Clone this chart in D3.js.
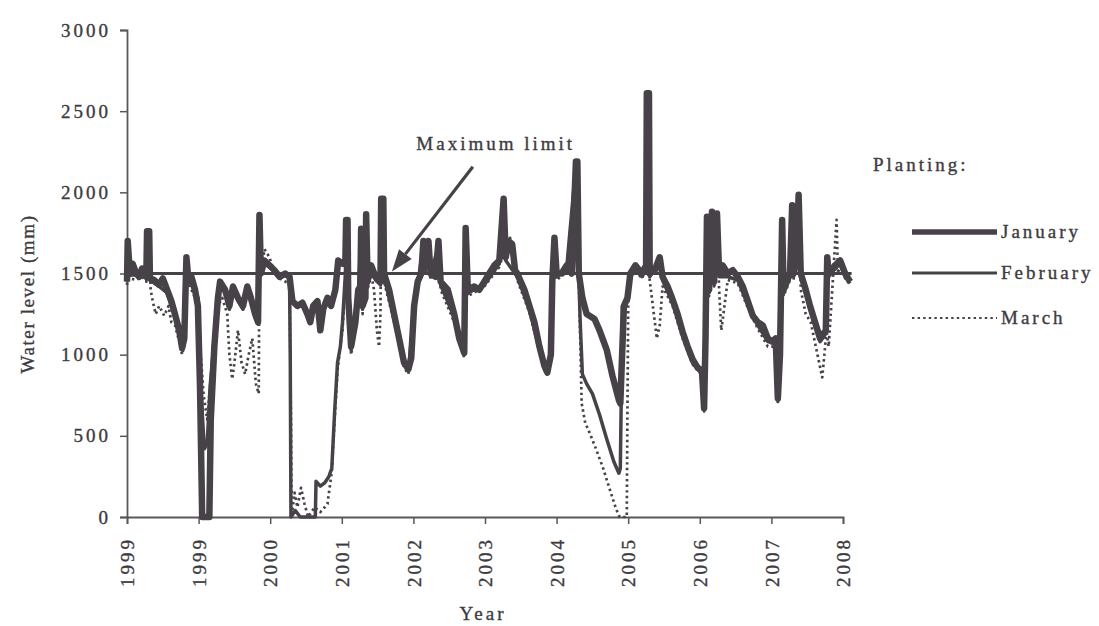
<!DOCTYPE html>
<html><head><meta charset="utf-8">
<script src="https://cdn.jsdelivr.net/npm/d3@7"></script>
<style>
html,body{margin:0;padding:0;background:#fff;}
text{font-family:"Liberation Serif","Times New Roman",serif;fill:#3e3b3f;stroke:#3e3b3f;stroke-width:0.35px;}
</style></head><body>
<svg id="chart" width="1099" height="626"></svg>
<script>
// ---------- data ----------
const xTickLabels = ["1999","1999","2000","2001","2002","2003","2004","2005","2006","2007","2008"];
const yTicks = [0,500,1000,1500,2000,2500,3000];
const seriesNames = ["January","February","March"];
const legendTitle = "Planting:";
const xTitle = "Year";
const yTitle = "Water level (mm)";
const maxLimit = 1500;
const annotationText = "Maximum limit";
const arrowFrom = [4.83, 2158];
const arrowTo = [3.70, 1512];
const labelAt = [5.15, 2262];

// [time (tick units from first tick), water level mm]
const january = [[0.00,1450],[0.01,1700],[0.04,1500],[0.08,1560],[0.13,1500],[0.17,1480],[0.21,1530],[0.27,1480],[0.28,1760],[0.31,1760],[0.32,1470],[0.38,1460],[0.45,1430],[0.50,1470],[0.56,1400],[0.62,1330],[0.67,1250],[0.73,1150],[0.77,1040],[0.80,1100],[0.83,1600],[0.85,1500],[0.90,1480],[0.95,1400],[0.99,1300],[1.02,800],[1.05,0],[1.15,0],[1.17,600],[1.22,1050],[1.27,1350],[1.30,1450],[1.37,1400],[1.43,1300],[1.48,1420],[1.55,1350],[1.62,1300],[1.68,1420],[1.73,1350],[1.79,1250],[1.83,1200],[1.85,1860],[1.87,1500],[1.92,1580],[1.99,1550],[2.06,1520],[2.13,1480],[2.21,1500],[2.27,1480],[2.31,1330],[2.38,1300],[2.45,1320],[2.52,1250],[2.56,1200],[2.60,1300],[2.66,1330],[2.70,1150],[2.74,1280],[2.80,1350],[2.85,1300],[2.91,1400],[2.95,1580],[3.01,1560],[3.05,1580],[3.06,1830],[3.08,1830],[3.09,1350],[3.13,1050],[3.19,1200],[3.23,1400],[3.26,1420],[3.27,1775],[3.29,1300],[3.33,1350],[3.34,1865],[3.36,1450],[3.41,1550],[3.47,1480],[3.54,1450],[3.55,1960],[3.58,1960],[3.59,1500],[3.66,1400],[3.73,1250],[3.80,1100],[3.87,950],[3.93,910],[3.97,980],[4.01,1300],[4.06,1450],[4.11,1500],[4.14,1700],[4.17,1550],[4.21,1700],[4.24,1500],[4.31,1480],[4.35,1700],[4.38,1450],[4.48,1400],[4.57,1250],[4.64,1100],[4.71,1010],[4.73,1780],[4.76,1400],[4.85,1420],[4.92,1400],[4.99,1450],[5.06,1500],[5.13,1550],[5.20,1580],[5.26,1960],[5.29,1600],[5.33,1700],[5.38,1680],[5.42,1520],[5.45,1500],[5.55,1400],[5.62,1300],[5.69,1200],[5.76,1050],[5.83,930],[5.87,890],[5.92,1000],[5.94,1450],[5.97,1720],[6.00,1500],[6.07,1500],[6.14,1550],[6.21,1500],[6.27,2190],[6.29,2190],[6.31,1500],[6.36,1350],[6.42,1250],[6.53,1220],[6.60,1150],[6.70,1030],[6.78,870],[6.87,720],[6.89,700],[6.94,1300],[6.99,1350],[7.03,1500],[7.10,1550],[7.19,1500],[7.25,1550],[7.26,2610],[7.29,2610],[7.30,1500],[7.37,1520],[7.44,1600],[7.48,1480],[7.55,1420],[7.62,1340],[7.69,1250],[7.76,1140],[7.83,1050],[7.90,970],[7.97,920],[8.03,900],[8.06,670],[8.08,1100],[8.10,1850],[8.13,1400],[8.17,1880],[8.20,1450],[8.24,1870],[8.27,1500],[8.32,1550],[8.39,1500],[8.46,1520],[8.53,1480],[8.60,1420],[8.67,1330],[8.74,1240],[8.81,1200],[8.88,1180],[8.95,1100],[9.01,1080],[9.06,1100],[9.09,730],[9.12,1000],[9.15,1830],[9.17,1400],[9.26,1500],[9.29,1920],[9.31,1500],[9.36,1700],[9.38,1985],[9.41,1500],[9.48,1400],[9.54,1300],[9.61,1200],[9.68,1100],[9.76,1150],[9.78,1600],[9.80,1500],[9.89,1550],[9.96,1580],[10.03,1500],[10.10,1450]];

const february = [[0.00,1450],[0.01,1680],[0.04,1490],[0.13,1490],[0.21,1510],[0.27,1470],[0.28,1740],[0.31,1740],[0.32,1460],[0.45,1420],[0.56,1380],[0.67,1230],[0.77,1030],[0.80,1080],[0.83,1580],[0.85,1480],[0.95,1380],[0.99,1280],[1.03,800],[1.08,420],[1.12,450],[1.16,800],[1.20,1000],[1.25,1300],[1.30,1430],[1.37,1380],[1.43,1280],[1.48,1400],[1.55,1330],[1.62,1280],[1.68,1400],[1.73,1330],[1.79,1230],[1.83,1190],[1.85,1840],[1.87,1490],[1.92,1560],[1.99,1540],[2.06,1510],[2.13,1470],[2.21,1490],[2.27,1470],[2.28,1000],[2.29,0],[2.35,40],[2.42,0],[2.55,0],[2.63,0],[2.64,220],[2.70,190],[2.76,210],[2.82,250],[2.86,300],[2.90,650],[2.94,950],[2.98,1050],[3.01,1200],[3.05,1500],[3.06,1800],[3.08,1800],[3.09,1300],[3.13,1030],[3.19,1180],[3.23,1380],[3.27,1750],[3.29,1280],[3.34,1840],[3.36,1430],[3.41,1530],[3.47,1460],[3.54,1430],[3.55,1940],[3.58,1940],[3.59,1480],[3.73,1230],[3.87,940],[3.93,900],[4.01,1280],[4.06,1430],[4.14,1680],[4.17,1530],[4.21,1680],[4.24,1480],[4.35,1680],[4.38,1430],[4.57,1230],[4.71,1000],[4.73,1760],[4.76,1380],[4.99,1430],[5.20,1560],[5.26,1940],[5.29,1580],[5.45,1480],[5.62,1280],[5.76,1030],[5.87,880],[5.92,990],[5.94,1430],[5.97,1700],[6.00,1480],[6.14,1530],[6.27,2170],[6.29,2170],[6.31,1480],[6.33,1200],[6.36,880],[6.42,820],[6.50,760],[6.60,630],[6.70,480],[6.80,340],[6.87,270],[6.89,300],[6.92,1300],[6.99,1340],[7.03,1480],[7.10,1530],[7.19,1480],[7.25,1530],[7.26,2590],[7.29,2590],[7.30,1480],[7.44,1580],[7.48,1460],[7.62,1320],[7.76,1120],[7.90,950],[8.03,880],[8.06,660],[8.08,1080],[8.10,1830],[8.13,1380],[8.17,1860],[8.20,1430],[8.24,1850],[8.27,1480],[8.39,1480],[8.53,1460],[8.67,1310],[8.81,1180],[8.95,1080],[9.06,1080],[9.09,720],[9.12,980],[9.15,1810],[9.17,1380],[9.26,1480],[9.29,1900],[9.31,1480],[9.38,1960],[9.41,1480],[9.54,1280],[9.68,1080],[9.76,1130],[9.78,1580],[9.80,1480],[9.89,1530],[9.96,1560],[10.03,1480],[10.10,1440]];

const march = [[0.00,1430],[0.01,1650],[0.04,1470],[0.13,1460],[0.21,1480],[0.27,1450],[0.28,1700],[0.31,1700],[0.33,1400],[0.36,1330],[0.40,1250],[0.45,1300],[0.52,1240],[0.58,1300],[0.62,1200],[0.67,1180],[0.73,1080],[0.77,1000],[0.80,1060],[0.83,1550],[0.85,1450],[0.95,1350],[1.00,1350],[1.03,1000],[1.07,750],[1.12,600],[1.17,850],[1.22,1100],[1.27,1300],[1.33,1350],[1.40,1250],[1.43,1000],[1.47,850],[1.50,950],[1.55,1150],[1.60,950],[1.65,880],[1.70,1000],[1.75,1100],[1.80,820],[1.84,760],[1.85,1780],[1.87,1500],[1.92,1650],[1.99,1600],[2.06,1500],[2.13,1470],[2.21,1450],[2.27,1440],[2.29,600],[2.30,0],[2.34,150],[2.38,60],[2.43,180],[2.48,80],[2.53,0],[2.62,60],[2.70,30],[2.80,80],[2.86,280],[2.90,600],[2.94,900],[2.98,1050],[3.01,1150],[3.05,1450],[3.06,1750],[3.08,1750],[3.09,1250],[3.13,1000],[3.19,1150],[3.23,1350],[3.27,1700],[3.29,1250],[3.34,1800],[3.36,1400],[3.41,1500],[3.45,1400],[3.49,1150],[3.52,1050],[3.54,1250],[3.55,1900],[3.58,1900],[3.59,1450],[3.73,1200],[3.87,920],[3.93,880],[4.01,1250],[4.06,1420],[4.14,1650],[4.17,1500],[4.21,1650],[4.24,1460],[4.35,1650],[4.38,1400],[4.57,1200],[4.71,980],[4.73,1740],[4.76,1360],[4.99,1420],[5.20,1540],[5.26,1900],[5.29,1600],[5.35,1720],[5.45,1460],[5.62,1260],[5.76,1020],[5.87,870],[5.92,980],[5.94,1420],[5.97,1680],[6.00,1460],[6.14,1510],[6.27,2150],[6.29,2150],[6.31,1460],[6.33,1100],[6.35,700],[6.40,580],[6.46,520],[6.55,420],[6.65,300],[6.75,160],[6.83,50],[6.88,0],[6.98,0],[6.99,700],[7.00,1300],[7.03,1460],[7.10,1520],[7.19,1470],[7.25,1520],[7.26,2550],[7.29,2550],[7.30,1460],[7.35,1280],[7.40,1100],[7.44,1180],[7.48,1420],[7.62,1300],[7.76,1100],[7.90,940],[8.03,870],[8.06,650],[8.08,1060],[8.10,1800],[8.13,1360],[8.17,1840],[8.20,1420],[8.24,1830],[8.27,1400],[8.30,1150],[8.33,1250],[8.39,1460],[8.53,1440],[8.67,1290],[8.81,1160],[8.95,1050],[9.06,1050],[9.09,700],[9.12,960],[9.15,1780],[9.17,1360],[9.26,1460],[9.29,1880],[9.31,1460],[9.38,1930],[9.41,1400],[9.48,1250],[9.55,1200],[9.62,1050],[9.71,860],[9.74,1000],[9.77,1150],[9.80,1050],[9.85,1400],[9.91,1830],[9.93,1500],[9.96,1560],[10.03,1470],[10.10,1430]];

// ---------- drawing ----------
const ink = "#474248";
const svg = d3.select("#chart");
const x = d3.scaleLinear().domain([0,10]).range([127,843]);
const y = d3.scaleLinear().domain([0,3000]).range([517,30]);

// axes
const yAxis = svg.append("g").attr("transform",`translate(${x(0)},0)`)
  .call(d3.axisLeft(y).tickValues(yTicks).tickSize(7).tickPadding(9).tickFormat(d3.format("d")));
const xAxis = svg.append("g").attr("transform",`translate(0,${y(0)})`)
  .call(d3.axisBottom(x).tickValues(d3.range(xTickLabels.length)).tickSize(7).tickFormat(i => xTickLabels[i]));
[yAxis,xAxis].forEach(g=>{
  g.select(".domain").attr("stroke","#5a565a").attr("stroke-width",1.8);
  g.selectAll(".tick line").attr("stroke","#5a565a").attr("stroke-width",1.5);
  g.selectAll("text").attr("font-family","Liberation Serif, serif").attr("font-size",19)
    .attr("letter-spacing",3).attr("fill","#3e3b3f");
});
xAxis.selectAll(".tick text")
  .attr("transform","rotate(-90)").attr("text-anchor","end")
  .attr("x",-20).attr("y",0).attr("dy","0.35em");

// max limit line
svg.append("line")
  .attr("x1",x(0)).attr("x2",x(10.12))
  .attr("y1",y(maxLimit)).attr("y2",y(maxLimit))
  .attr("stroke",ink).attr("stroke-width",2.8);

// series
const line = d3.line().x(d=>x(d[0])).y(d=>y(d[1]));
const styles = [
  {w:6.5, dash:null},
  {w:3.5, dash:null},
  {w:2.7, dash:"2.4 3.2"}
];
const data = [january, february, march];
[2,1,0].forEach(i=>{
  svg.append("path").datum(data[i]).attr("d",line)
    .attr("fill","none").attr("stroke",ink)
    .attr("stroke-width",styles[i].w)
    .attr("stroke-linejoin","round")
    .attr("stroke-dasharray",styles[i].dash);
});

// annotation arrow
const ax1 = x(arrowFrom[0]), ay1 = y(arrowFrom[1]);
const ax2 = x(arrowTo[0]), ay2 = y(arrowTo[1]);
const ang = Math.atan2(ay2-ay1, ax2-ax1);
const headLen = 22, headW = 8;
const bx = ax2 - headLen*Math.cos(ang), by = ay2 - headLen*Math.sin(ang);
svg.append("line").attr("x1",ax1).attr("y1",ay1).attr("x2",bx).attr("y2",by)
  .attr("stroke",ink).attr("stroke-width",3.2);
svg.append("path")
  .attr("d",`M${ax2},${ay2}L${bx+headW*Math.sin(ang)},${by-headW*Math.cos(ang)}L${bx-headW*Math.sin(ang)},${by+headW*Math.cos(ang)}Z`)
  .attr("fill",ink);
svg.append("text").attr("x",x(labelAt[0])).attr("y",y(labelAt[1]))
  .attr("text-anchor","middle").attr("font-size",19).attr("letter-spacing",3)
  .text(annotationText);

// axis titles
svg.append("text").attr("x",483).attr("y",620).attr("text-anchor","middle")
  .attr("font-size",19).attr("letter-spacing",3).text(xTitle);
svg.append("text").attr("transform","translate(34,294) rotate(-90)")
  .attr("text-anchor","middle").attr("font-size",19).attr("letter-spacing",1.6).text(yTitle);

// legend
svg.append("text").attr("x",873).attr("y",171).attr("font-size",19).attr("letter-spacing",3).text(legendTitle);
const legY = [232,273,318];
seriesNames.forEach((n,i)=>{
  svg.append("line").attr("x1",912).attr("x2",997).attr("y1",legY[i]).attr("y2",legY[i])
    .attr("stroke",ink).attr("stroke-width",i===0?5.5:(i===1?3:1.8))
    .attr("stroke-dasharray",styles[i].dash);
  svg.append("text").attr("x",1001).attr("y",legY[i]+6).attr("font-size",19)
    .attr("letter-spacing",3).text(n);
});
</script>
</body></html>
